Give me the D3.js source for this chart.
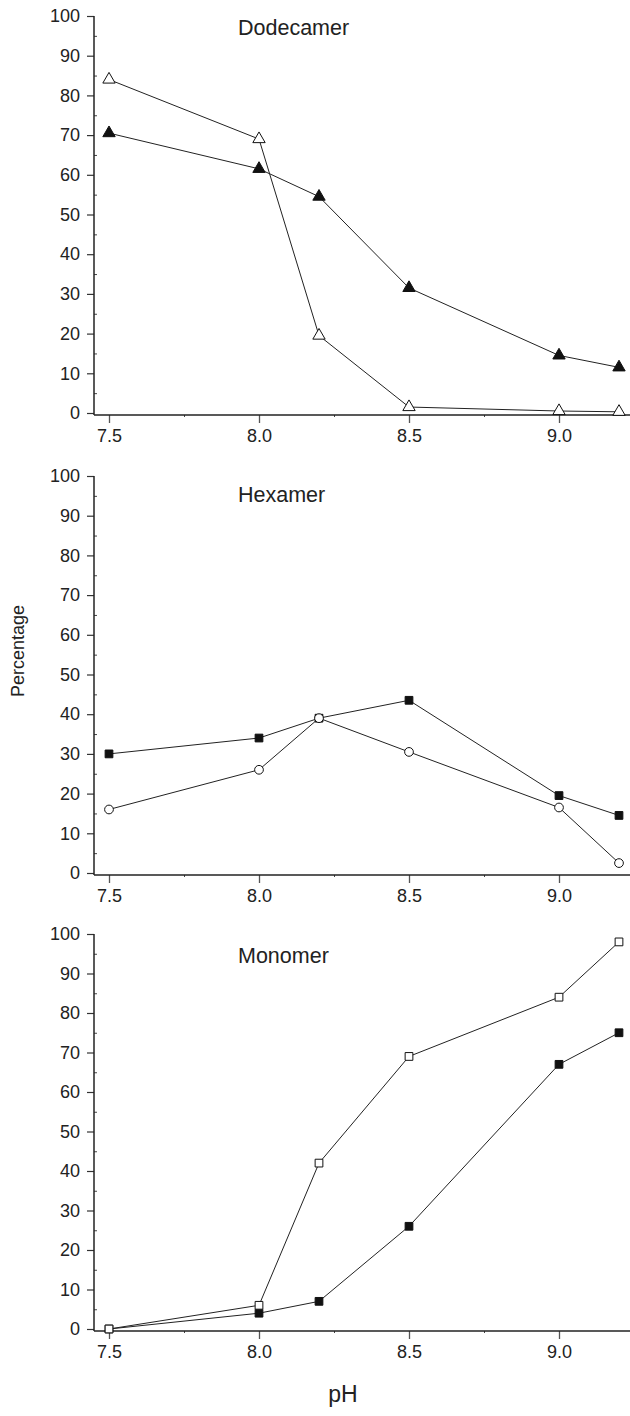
<!DOCTYPE html>
<html lang="en">
    <head>
        <meta charset="utf-8">
        <title>D3</title>
        <script type="text/javascript" src="https://cdnjs.cloudflare.com/ajax/libs/d3/7.8.5/d3.min.js"></script>
        <style type="text/css">
            body { margin: 0; background: #fff; }
            text { font-family: "Liberation Sans", Arial, sans-serif; fill: #222; }
        </style>
    </head>
    <body>
        <script type="text/javascript">
            // data
            var pH = [7.5, 8.0, 8.2, 8.5, 9.0, 9.2];
            var dodecamerOpen = [84, 69, 19.5, 1.5, 0.5, 0.3];
            var dodecamerFilled = [70.5, 61.5, 54.5, 31.5, 14.5, 11.5];
            var hexamerSquare = [30, 34, 39, 43.5, 19.5, 14.5];
            var hexamerCircle = [16, 26, 39, 30.5, 16.5, 2.5];
            var monomerOpen = [0, 6, 42, 69, 84, 98];
            var monomerFilled = [0, 4, 7, 26, 67, 75];
            var xTicks = [7.5, 8.0, 8.5, 9.0];
            var xMinor = [7.75, 8.25, 8.75];
            var yTicks = [0, 10, 20, 30, 40, 50, 60, 70, 80, 90, 100];
            var yMinor = [5, 15, 25, 35, 45, 55, 65, 75, 85, 95];
            var titles = ["Dodecamer", "Hexamer", "Monomer"];

            var w = 630;
            var h = 1416;

            var panels = [
              { top: 16, bottom: 413, titleY: 35, series: [
                  { v: dodecamerOpen, shape: "triangle", fill: "#fff" },
                  { v: dodecamerFilled, shape: "triangle", fill: "#111" } ] },
              { top: 476, bottom: 873, titleY: 502, series: [
                  { v: hexamerSquare, shape: "square", fill: "#111" },
                  { v: hexamerCircle, shape: "circle", fill: "#fff" } ] },
              { top: 934, bottom: 1329, titleY: 963, series: [
                  { v: monomerFilled, shape: "square", fill: "#111" },
                  { v: monomerOpen, shape: "square", fill: "#fff" } ] }
            ];

            var svg = d3.select("body")
                        .append("svg")
                        .attr("width", w)
                        .attr("height", h);

            var x = d3.scaleLinear().domain([7.5, 9.0]).range([109, 559]);
            var axisLeftX = 94;

            var symbols = {
              triangle: d3.symbol().type(d3.symbolTriangle).size(66),
              square: d3.symbol().type(d3.symbolSquare).size(60),
              circle: d3.symbol().type(d3.symbolCircle).size(60)
            };

            panels.forEach(function (p, i) {
              var y = d3.scaleLinear().domain([0, 100]).range([p.bottom, p.top]);
              var axisY = p.bottom + 2;
              var g = svg.append("g");

              // y axis
              var ya = g.append("g")
                .attr("transform", "translate(" + axisLeftX + ",0)")
                .call(d3.axisLeft(y).tickValues(yTicks).tickSize(7).tickPadding(7));
              ya.select(".domain").remove();
              ya.selectAll("line").attr("stroke", "#333").attr("stroke-width", 1.2);
              ya.selectAll("text").attr("font-size", "18px").attr("fill", "#222")
                .attr("font-family", "Liberation Sans, Arial, sans-serif");

              var ym = g.append("g")
                .attr("transform", "translate(" + axisLeftX + ",0)")
                .call(d3.axisRight(y).tickValues(yMinor).tickSize(3).tickFormat(""));
              ym.select(".domain").remove();
              ym.selectAll("line").attr("stroke", "#444");

              g.append("line")
                .attr("x1", axisLeftX).attr("x2", axisLeftX)
                .attr("y1", y(100)).attr("y2", axisY)
                .attr("stroke", "#222").attr("stroke-width", 1.5);

              // x axis
              var xa = g.append("g")
                .attr("transform", "translate(0," + axisY + ")")
                .call(d3.axisBottom(x).tickValues(xTicks).tickSize(8).tickPadding(6)
                  .tickFormat(d3.format(".1f")));
              xa.select(".domain").remove();
              xa.selectAll("line").attr("stroke", "#555").attr("stroke-width", 1.3);
              xa.selectAll("text").attr("font-size", "18px").attr("fill", "#222")
                .attr("font-family", "Liberation Sans, Arial, sans-serif");

              var xm = g.append("g")
                .attr("transform", "translate(0," + axisY + ")")
                .call(d3.axisBottom(x).tickValues(xMinor).tickSize(2).tickFormat(""));
              xm.select(".domain").remove();
              xm.selectAll("line").attr("stroke", "#444");

              g.append("line")
                .attr("x1", axisLeftX).attr("x2", w)
                .attr("y1", axisY).attr("y2", axisY)
                .attr("stroke", "#222").attr("stroke-width", 1.5);

              // title
              g.append("text")
                .text(titles[i])
                .attr("x", 238)
                .attr("y", p.titleY)
                .attr("font-size", "21.5px");

              var line = d3.line()
                .x(function (d, j) { return x(pH[j]); })
                .y(function (d) { return y(d); });

              p.series.forEach(function (s) {
                g.append("path")
                  .datum(s.v)
                  .attr("d", line)
                  .attr("fill", "none")
                  .attr("stroke", "#222")
                  .attr("stroke-width", 1);
              });

              p.series.forEach(function (s) {
                g.selectAll(null)
                  .data(s.v)
                  .enter()
                  .append("path")
                  .attr("d", symbols[s.shape])
                  .attr("transform", function (d, j) {
                    return "translate(" + x(pH[j]) + "," + y(d) + ")";
                  })
                  .attr("fill", s.fill)
                  .attr("stroke", "#111")
                  .attr("stroke-width", 1);
              });
            });

            svg.append("text")
              .text("Percentage")
              .attr("transform", "translate(24,651) rotate(-90)")
              .attr("text-anchor", "middle")
              .attr("font-size", "18px");

            svg.append("text")
              .text("pH")
              .attr("x", 343)
              .attr("y", 1402)
              .attr("text-anchor", "middle")
              .attr("font-size", "23px");
        </script>
    </body>
</html>
